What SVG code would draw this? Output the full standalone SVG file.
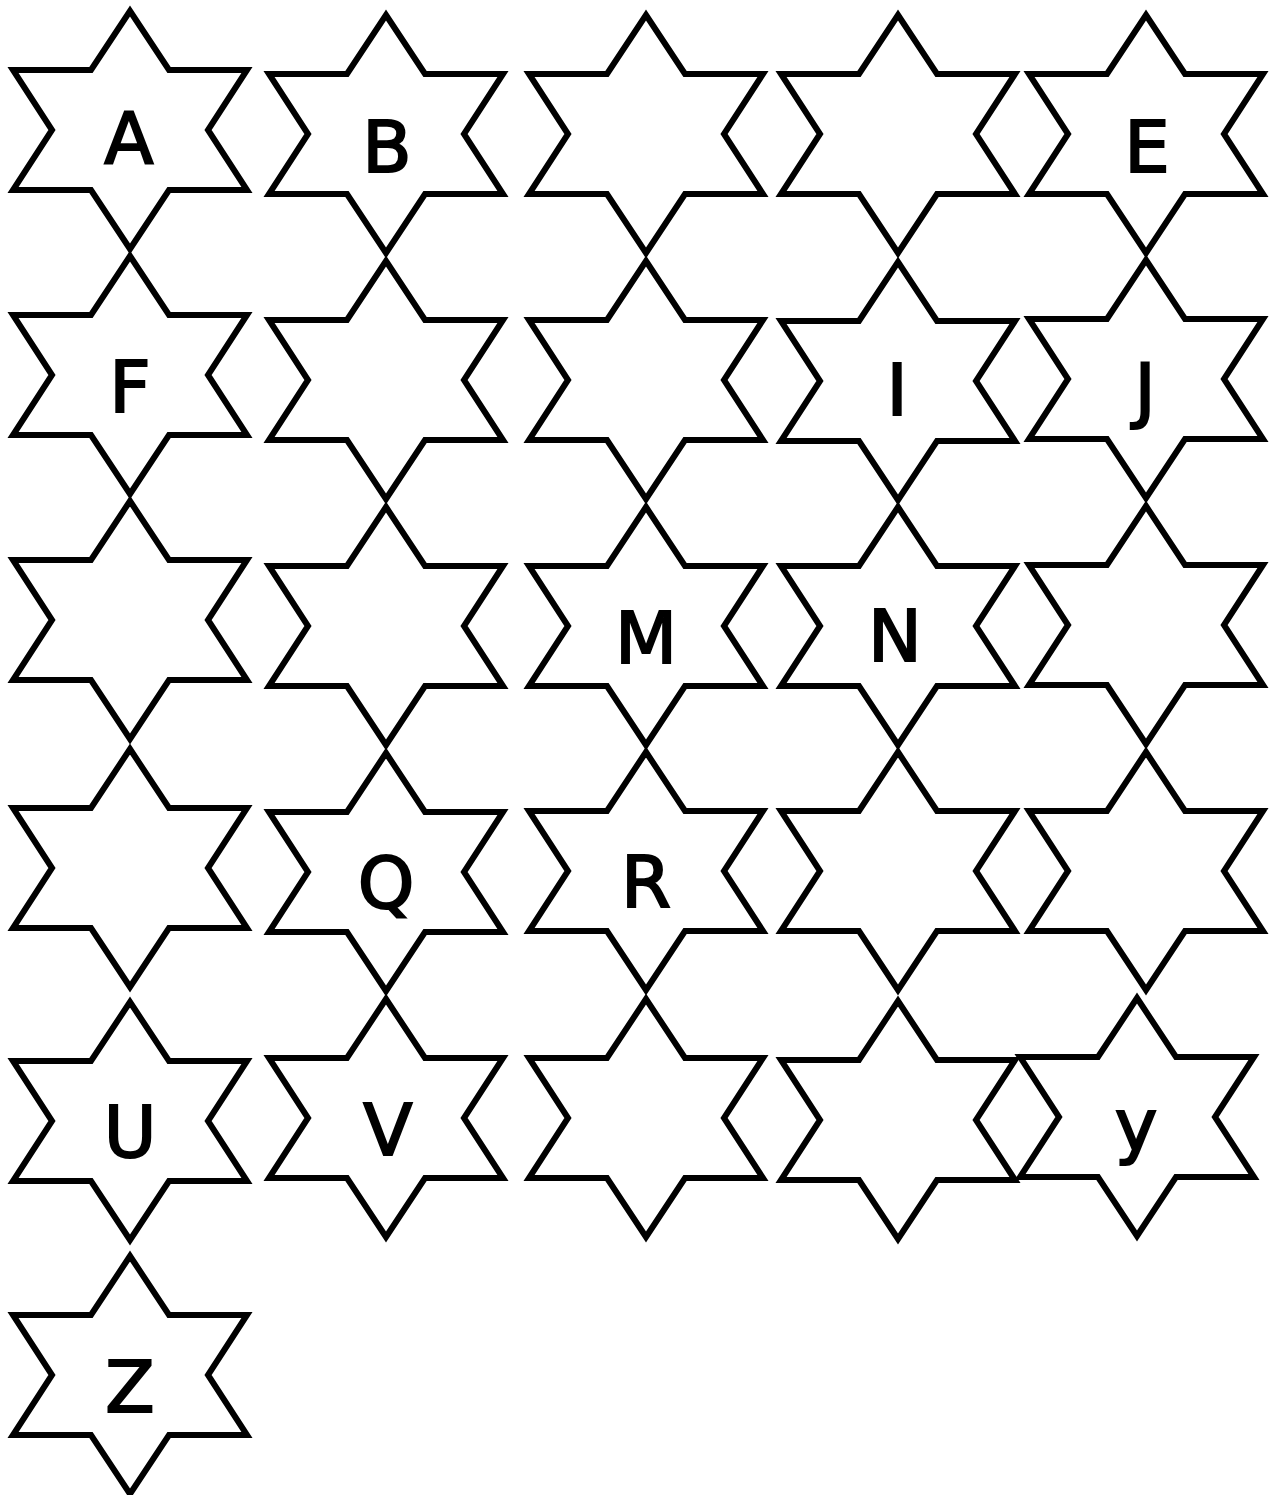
<svg xmlns="http://www.w3.org/2000/svg" xmlns:xlink="http://www.w3.org/1999/xlink" width="1274" height="1495" viewBox="0 0 1274 1495">
<style>
.star{fill:none;stroke:#000;stroke-width:6;stroke-linejoin:miter}
.lbl{font-family:"DejaVu Sans","Liberation Sans",sans-serif;font-size:72px;fill:#000;stroke:#000;stroke-width:2;text-anchor:middle}
</style>
<defs>
<polygon id="s" class="star" points="0,-119 39,-60 117,-60 78,0 117,60 39,60 0,119 -39,60 -117,60 -78,0 -117,-60 -39,-60"/>
</defs>
<rect width="1274" height="1495" fill="#fff"/>
<g id="connectors"></g>
<g id="star-A"><use xlink:href="#s" x="130" y="130"/><text class="lbl" x="129" y="163">A</text></g>
<g id="star-B"><use xlink:href="#s" x="386" y="134"/><text class="lbl" x="387" y="172">B</text></g>
<g id="star-C"><use xlink:href="#s" x="646" y="134"/></g>
<g id="star-D"><use xlink:href="#s" x="898" y="134"/></g>
<g id="star-E"><use xlink:href="#s" x="1146" y="134"/><text class="lbl" x="1147" y="172">E</text></g>
<g id="star-F"><use xlink:href="#s" x="130" y="375"/><text class="lbl" x="130" y="412">F</text></g>
<g id="star-G"><use xlink:href="#s" x="386" y="380"/></g>
<g id="star-H"><use xlink:href="#s" x="646" y="380"/></g>
<g id="star-I"><use xlink:href="#s" x="898" y="381"/><text class="lbl" x="897" y="415">I</text></g>
<g id="star-J"><use xlink:href="#s" x="1146" y="379"/><text class="lbl" x="1145" y="415">J</text></g>
<g id="star-K"><use xlink:href="#s" x="130" y="620"/></g>
<g id="star-L"><use xlink:href="#s" x="386" y="626"/></g>
<g id="star-M"><use xlink:href="#s" x="646" y="626"/><text class="lbl" x="646" y="663">M</text></g>
<g id="star-N"><use xlink:href="#s" x="898" y="626"/><text class="lbl" x="895" y="661">N</text></g>
<g id="star-O"><use xlink:href="#s" x="1146" y="625"/></g>
<g id="star-P"><use xlink:href="#s" x="130" y="868"/></g>
<g id="star-Q"><use xlink:href="#s" x="386" y="872"/><text class="lbl" x="386" y="908">Q</text></g>
<g id="star-R"><use xlink:href="#s" x="646" y="871"/><text class="lbl" x="646" y="907">R</text></g>
<g id="star-S"><use xlink:href="#s" x="898" y="871"/></g>
<g id="star-T"><use xlink:href="#s" x="1146" y="871"/></g>
<g id="star-U"><use xlink:href="#s" x="130" y="1121"/><text class="lbl" x="130" y="1157">U</text></g>
<g id="star-V"><use xlink:href="#s" x="386" y="1118"/><text class="lbl" x="388" y="1155">V</text></g>
<g id="star-W"><use xlink:href="#s" x="646" y="1118"/></g>
<g id="star-X"><use xlink:href="#s" x="898" y="1120"/></g>
<g id="star-Y"><use xlink:href="#s" x="1137" y="1117"/><text class="lbl" x="1136" y="1150">y</text></g>
<g id="star-Z"><use xlink:href="#s" x="130" y="1375"/><text class="lbl" x="130" y="1412">Z</text></g>
</svg>
